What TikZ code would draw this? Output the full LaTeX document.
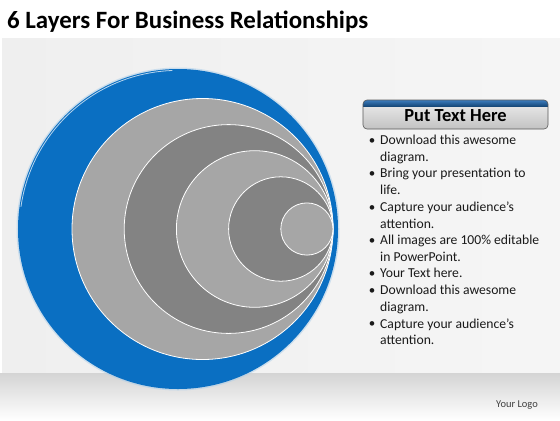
\documentclass[tikz,border=0pt]{standalone}
\usepackage{fontspec}
\setmainfont{Carlito}
\definecolor{panelgray}{HTML}{EFEFEF}
\definecolor{bandgray}{HTML}{D4D4D4}
\definecolor{ringblue}{HTML}{0A6FC2}
\definecolor{lightring}{HTML}{A6A6A6}
\definecolor{darkring}{HTML}{838383}
\definecolor{hdrtop}{HTML}{EEEEEE}
\definecolor{hdrbot}{HTML}{C2C2C2}
\definecolor{striptop}{HTML}{3C7DBE}
\definecolor{stripbot}{HTML}{17497A}
\definecolor{txt}{HTML}{1A1A1A}
\tikzset{
  lightdisc/.style={fill=lightring, draw=white, line width=0.8bp},
  darkdisc/.style={fill=darkring, draw=white, line width=0.8bp},
  bulletdot/.style={anchor=center, text=txt, inner sep=0pt, font=\fontsize{13}{14}\selectfont},
  itemtext/.style={anchor=west, text=txt, inner sep=0pt, align=left, font=\fontsize{13.7}{16.67}\selectfont},
}
\begin{document}
\begin{tikzpicture}[x=1bp,y=-1bp]
\useasboundingbox (0,0) rectangle (560,420);
\fill[white] (0,0) rectangle (560,420);
% background panel and bottom band
\shade[left color=panelgray, right color=panelgray!60!white] (2,38) rectangle (560,373);
\shade[top color=bandgray, bottom color=white] (0,373) rectangle (560,420);
% title
\node[anchor=base west, inner sep=0pt, text=black, font=\fontsize{25}{30}\selectfont\bfseries] (title) at (7,28) {6 Layers For Business Relationships};
% blue outer disc
\fill[ringblue!35!white, opacity=0.5] (178,229) circle (161.5bp);
\fill[ringblue] (178,229) circle (160bp);
\draw[ringblue!30!white, line width=0.8bp] (178,229) ++(172:158.6bp) arc (172:92:158.6bp);
% gray discs, tangent on the right
\path[lightdisc] (202.5,229) circle (130.5bp);
\path[darkdisc]  (228.6,229) circle (104.4bp);
\path[lightdisc] (254.7,229) circle (78.3bp);
\path[darkdisc]  (280.8,229) circle (52.2bp);
\path[lightdisc] (306.9,229) circle (26.1bp);
% header box
\shade[top color=hdrtop, bottom color=hdrbot, rounded corners=4bp] (363,100) rectangle (548,129);
\begin{scope}
  \clip[rounded corners=4bp] (363,100) rectangle (548,129);
  \shade[top color=striptop, bottom color=stripbot] (363,100) rectangle (548,106);
\end{scope}
\draw[black!65, line width=0.6bp, rounded corners=4bp] (363,100) rectangle (548,129);
\node[inner sep=0pt, text=black, font=\fontsize{18.5}{20}\selectfont\bfseries] (hdr) at (455.5,115.5) {Put Text Here};
% bullet list
\foreach \y/\t [count=\i] in {141.7/{Download this awesome\\diagram.},
  175.0/{Bring your presentation to\\life.},
  208.4/{Capture your audience’s\\attention.},
  241.7/{All images are 100\% editable\\in PowerPoint.},
  275.0/{Your Text here.},
  291.7/{Download this awesome\\diagram.},
  325.0/{Capture your audience’s\\attention.}}{
  \node[bulletdot] (b\i) at (372,\y) {•};
  \node[itemtext, anchor=north west] (t\i) at (380,\y-6.8) {\t};
}
% logo
\node[anchor=east, inner sep=0pt, text=black!75, font=\fontsize{10.5}{12}\selectfont] (logo) at (538,405) {Your Logo};
\end{tikzpicture}
\end{document}
